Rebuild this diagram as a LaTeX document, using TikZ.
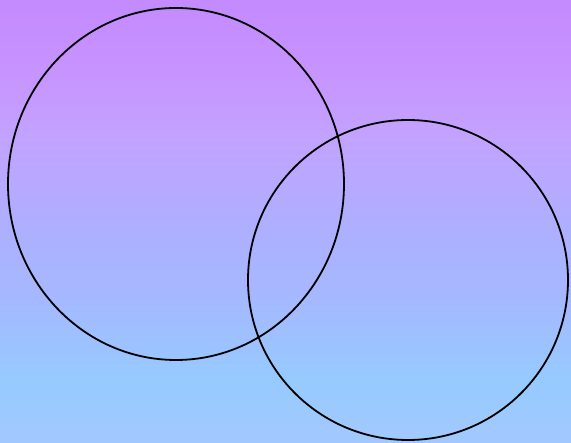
\documentclass[tikz,border=0pt]{standalone}
\definecolor{ca}{HTML}{C48AFF}
\definecolor{cb}{HTML}{C794FF}
\definecolor{cc}{HTML}{C3A2FF}
\definecolor{cd}{HTML}{B0ADFF}
\definecolor{ce}{HTML}{A5B8FF}
\definecolor{cf}{HTML}{96CAFF}
\definecolor{cg}{HTML}{A2C9FF}
\begin{document}
\begin{tikzpicture}[x=1pt,y=-1pt,
  ring/.style={draw=black,line width=1.8pt}]
\useasboundingbox (0,0) rectangle (571,443);
\shade[top color=ca,bottom color=cb] (0,0) rectangle (571,75.5);
\shade[top color=cb,bottom color=cc] (0,75) rectangle (571,135.5);
\shade[top color=cc,bottom color=cd] (0,135) rectangle (571,215.5);
\shade[top color=cd,bottom color=ce] (0,215) rectangle (571,295.5);
\shade[top color=ce,bottom color=cf] (0,295) rectangle (571,380.5);
\shade[top color=cf,bottom color=cg] (0,380) rectangle (571,443);
\draw[ring] (176,184) ellipse [x radius=168, y radius=176];
\draw[ring] (408,280) ellipse [x radius=160, y radius=160];
\end{tikzpicture}
\end{document}
